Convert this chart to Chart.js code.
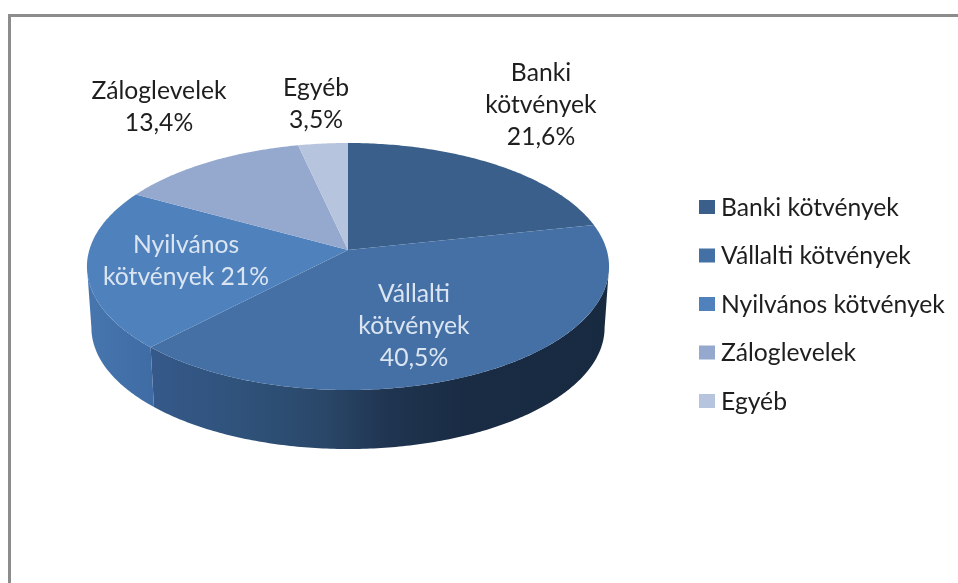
<!DOCTYPE html>
<html><head><meta charset="utf-8">
<style>
html,body{margin:0;padding:0;background:#fff;overflow:hidden}
#frame{position:absolute;left:8px;top:14px;width:950px;height:569px;border-top:3px solid #8c8c8c;border-left:3px solid #8c8c8c;box-sizing:border-box}
canvas{position:absolute;left:0;top:0}
</style>
<script src="https://cdn.jsdelivr.net/npm/chart.js@4"></script>
</head><body>
<div id="frame"></div>
<canvas id="c" width="958" height="583"></canvas>
<script>
const categories = ["Banki kötvények","Vállalti kötvények","Nyilvános kötvények","Záloglevelek","Egyéb"];
const values = [21.6,40.5,21,13.4,3.5];
const colors = ["#3a5f8b","#4570a6","#4f81bd","#95a9cf","#b7c4dd"];
const labelLines = [["Banki","kötvények","21,6%"],["Vállalti","kötvények","40,5%"],["Nyilvános","kötvények 21%"],["Záloglevelek","13,4%"],["Egyéb","3,5%"]];
const labelColors = ["#1e1e1e","#dbe5f1","#dbe5f1","#1e1e1e","#1e1e1e"];
const labelAnchors = [[541,73],[414,294],[186,245],[159,91],[316,88]];

const FONT = '24.7px Lato, "Open Sans", sans-serif';
const CX=348, CY=250, A=258.7, B=121.3, K=0.1336, DEPTH=61.4, SHRINK=0.983;

function project(a, lower){
  const c=Math.cos(a), s=Math.sin(a), d=1-K*s, f=lower?SHRINK:1;
  return [CX+f*A*c/d, CY+(lower?DEPTH:0)+f*B*s/d];
}
function wallFill(ctx,i){
  const g=ctx.createLinearGradient(88,0,610,0);
  if(i===2){g.addColorStop(0,"#4775ae");g.addColorStop(0.12,"#3f6ca5");g.addColorStop(1,"#3f6ca5");}
  else{
    g.addColorStop(0.12,"#35598a");g.addColorStop(0.3,"#2f527a");g.addColorStop(0.45,"#2a4769");
    g.addColorStop(0.58,"#1f3450");g.addColorStop(0.72,"#1a2c44");g.addColorStop(1,"#182a40");
  }
  return g;
}
const pie3d = {
  id:'pie3d',
  beforeDatasetsDraw(chart){
    const ctx=chart.ctx, arcs=chart.getDatasetMeta(0).data;
    const lo=Math.asin(K), hi=Math.PI-lo;
    arcs.forEach((el,i)=>{
      const st=Math.max(el.startAngle,lo), en=Math.min(el.endAngle,hi);
      if(en<=st) return;
      ctx.beginPath();
      const n=Math.max(8,Math.ceil((en-st)*80));
      for(let j=0;j<=n;j++){const p=project(st+(en-st)*j/n,false); j?ctx.lineTo(p[0],p[1]):ctx.moveTo(p[0],p[1]);}
      for(let j=n;j>=0;j--){const p=project(st+(en-st)*j/n,true); ctx.lineTo(p[0],p[1]);}
      ctx.closePath();
      ctx.fillStyle=wallFill(ctx,i);
      ctx.fill();
    });
    arcs.forEach((el,i)=>{
      const st=el.startAngle,en=el.endAngle,n=Math.max(8,Math.ceil((en-st)*80));
      ctx.beginPath();ctx.moveTo(CX,CY);
      for(let j=0;j<=n;j++){const p=project(st+(en-st)*j/n,false);ctx.lineTo(p[0],p[1]);}
      ctx.closePath();
      ctx.fillStyle=el.options.backgroundColor;
      ctx.fill();
    });
    return false;
  },
  afterDraw(chart){
    const ctx=chart.ctx;
    ctx.save();
    ctx.font=FONT;ctx.textBaseline='middle';ctx.textAlign='center';
    labelLines.forEach((lines,i)=>{
      ctx.fillStyle=labelColors[i];
      lines.forEach((t,j)=>ctx.fillText(t,labelAnchors[i][0],labelAnchors[i][1]+j*32));
    });
    ctx.textAlign='left';
    categories.forEach((t,i)=>{
      const y=207+i*48.5;
      ctx.fillStyle=colors[i];ctx.fillRect(699,y-7,16,14);
      ctx.fillStyle='#1e1e1e';ctx.fillText(t,721,y+1);
    });
    ctx.restore();
  }
};
new Chart(document.getElementById('c'),{
  type:'pie',
  data:{labels:categories,datasets:[{data:values,backgroundColor:colors,borderWidth:0}]},
  options:{responsive:false,animation:false,plugins:{legend:{display:false},tooltip:{enabled:false}}},
  plugins:[pie3d]
});
</script>
</body></html>
